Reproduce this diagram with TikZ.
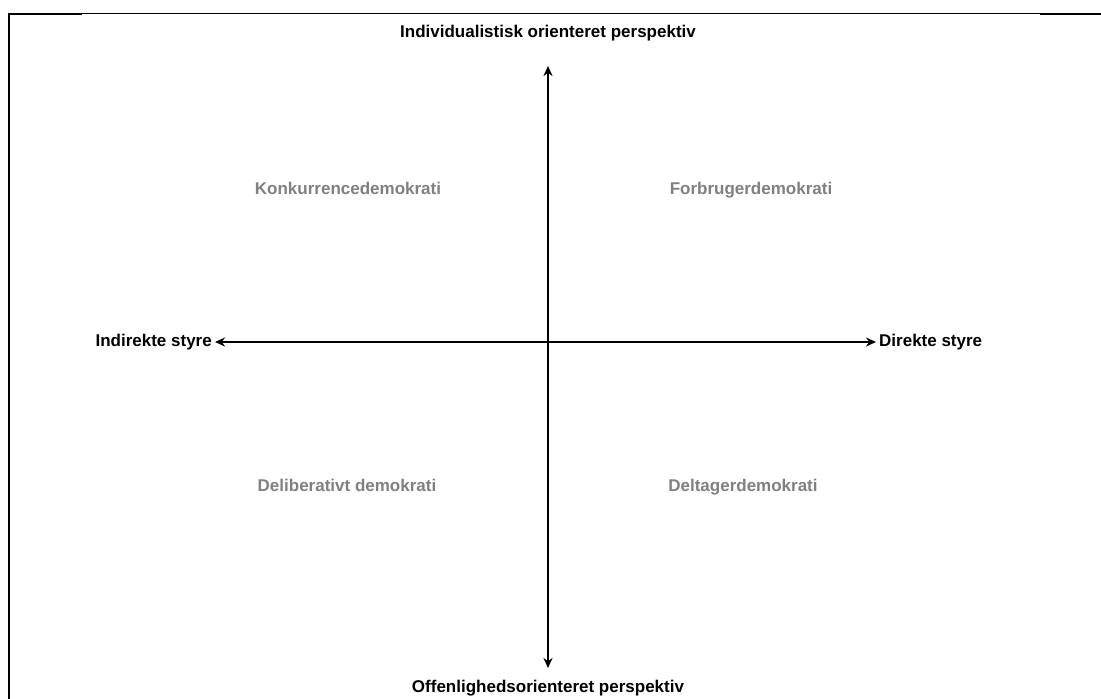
\documentclass[tikz,border=0pt]{standalone}
\usepackage{fontspec}
\setmainfont{Liberation Sans}
\usetikzlibrary{arrows.meta}
\begin{document}
\begin{tikzpicture}[x=1pt,y=-1pt,
  axislabel/.style={font=\fontsize{17}{20}\selectfont\bfseries, text=black, inner sep=0pt, text height=12.5pt, text depth=3.5pt},
  quadlabel/.style={font=\fontsize{17}{20}\selectfont\bfseries, text=black!50, inner sep=0pt, text height=12.5pt, text depth=3.5pt},
  axis/.style={line width=2pt, {Stealth[length=10pt,width=9pt]}-{Stealth[length=10pt,width=9pt]}},
  frame/.style={line width=2.2pt}]
\useasboundingbox (0,0) rectangle (1101,699);
% frame
\draw[frame] (9.3,699) -- (9.3,14.3) -- (82,14.3);
\draw[line width=1.2pt] (82,13.2) -- (1040,13.2);
\draw[frame] (1040,14.3) -- (1101,14.3);
% axis labels
\node[axislabel] (top) at (548,33) {Individualistisk orienteret perspektiv};
\node[axislabel] (bottom) at (548,688) {Offenlighedsorienteret perspektiv};
\node[axislabel, anchor=east] (left) at (212,342) {Indirekte styre};
\node[axislabel, anchor=west] (right) at (879,342) {Direkte styre};
% axes
\coordinate (vtop) at (548,66);
\coordinate (vbot) at (548,668);
\draw[axis] (vtop) -- (vbot);
\draw[axis] ([xshift=3pt]left.east |- 0,342) -- ([xshift=-3pt]right.west |- 0,342);
% quadrant labels
\node[quadlabel] (q1) at (348,190) {Konkurrencedemokrati};
\node[quadlabel] (q2) at (751,190) {Forbrugerdemokrati};
\node[quadlabel] (q3) at (347,487) {Deliberativt demokrati};
\node[quadlabel] (q4) at (743,487) {Deltagerdemokrati};
\end{tikzpicture}
\end{document}
